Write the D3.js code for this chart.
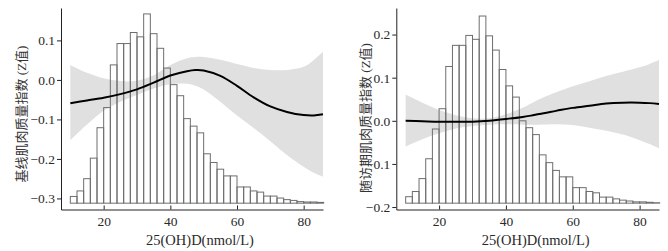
<!DOCTYPE html>
<html>
<head>
<meta charset="utf-8">
<script src="https://cdn.jsdelivr.net/npm/d3@7"></script>
<style>
  body { margin: 0; background: #fff; }
  text { font-family: "Liberation Serif", "Noto Sans CJK SC", serif; }
</style>
</head>
<body>
<div id="chart"></div>
<script>
// histogram bins of 25(OH)D (nmol/L)
const binEdges = [10,12,14,16,18,20,22,24,26,28,30,32,34,36,38,40,42,44,46,48,50,52,54,56,58,60,62,64,66,68,70,72,74,76,78,80,82,84,86];

// bar tops, drawn in each panel's own y units
const barsLeft = [-0.295,-0.281,-0.250,-0.198,-0.121,-0.070,0.038,0.092,0.092,0.120,0.109,0.167,0.117,0.080,0.030,-0.012,-0.040,-0.098,-0.117,-0.134,-0.187,-0.209,-0.226,-0.243,-0.243,-0.271,-0.271,-0.281,-0.284,-0.294,-0.294,-0.299,-0.303,-0.305,-0.308,-0.309,-0.309,-0.310];
const barsRight = [-0.176,-0.164,-0.134,-0.088,-0.019,0.028,0.126,0.175,0.175,0.198,0.189,0.243,0.197,0.164,0.119,0.081,0.055,0.000,-0.016,-0.032,-0.079,-0.097,-0.115,-0.130,-0.130,-0.155,-0.155,-0.164,-0.167,-0.177,-0.177,-0.181,-0.184,-0.186,-0.188,-0.188,-0.189,-0.190];
const baseLeft = -0.312;
const baseRight = -0.191;

// spline fit and 95% CI
const fitX = [10,15,20,25,30,35,40,45,47.5,50,55,60,65,70,75,80,83,85.8];
const fitLeft   = [-0.059,-0.052,-0.045,-0.036,-0.024,-0.007,0.011,0.022,0.025,0.024,0.010,-0.015,-0.044,-0.067,-0.081,-0.089,-0.090,-0.087];
const upperLeft = [0.038,0.018,0.004,-0.003,-0.002,0.012,0.038,0.055,0.058,0.058,0.051,0.040,0.030,0.025,0.025,0.033,0.050,0.071];
const lowerLeft = [-0.153,-0.113,-0.078,-0.055,-0.038,-0.022,-0.011,-0.010,-0.015,-0.024,-0.055,-0.090,-0.122,-0.155,-0.190,-0.220,-0.235,-0.245];
const fitRight   = [0.000,-0.001,-0.002,-0.002,-0.002,0.000,0.004,0.009,0.012,0.016,0.023,0.030,0.035,0.040,0.042,0.042,0.041,0.039];
const upperRight = [0.061,0.042,0.025,0.013,0.006,0.006,0.015,0.030,0.040,0.050,0.066,0.080,0.092,0.104,0.114,0.124,0.132,0.141];
const lowerRight = [-0.060,-0.043,-0.029,-0.018,-0.012,-0.009,-0.008,-0.009,-0.009,-0.009,-0.008,-0.010,-0.016,-0.023,-0.032,-0.045,-0.054,-0.064];

const xTicks = [20,40,60,80];
const yTicksLeft = [-0.3,-0.2,-0.1,0.0,0.1];
const yTicksRight = [-0.2,-0.1,0.0,0.1,0.2];
const xTitle = "25(OH)D(nmol/L)";
const yTitleLeft = "基线肌肉质量指数 (Z值)";
const yTitleRight = "随访期肌肉质量指数 (Z值)";

const width = 668, height = 251;

const svg = d3.select("#chart")
  .append("svg")
  .attr("width", width)
  .attr("height", height);

function drawPanel(p) {
  const x = d3.scaleLinear()
    .domain([7.2, 85.8])
    .range([p.left, p.right]);

  const y = d3.scaleLinear()
    .domain(p.yDomain)
    .range([209.5, 8]);

  const g = svg.append("g");

  const fit = fitX.map((v, i) => ({ x: v, m: p.fit[i], lo: p.lower[i], hi: p.upper[i] }));

  // CI band
  g.append("path")
    .datum(fit)
    .attr("fill", "#e0e0e0")
    .attr("d", d3.area()
      .x(d => x(d.x))
      .y0(d => y(d.lo))
      .y1(d => y(d.hi))
      .curve(d3.curveCatmullRom));

  // histogram
  g.append("g")
    .selectAll("rect")
    .data(p.bars)
    .join("rect")
    .attr("x", (d, i) => x(binEdges[i]))
    .attr("width", (d, i) => x(binEdges[i + 1]) - x(binEdges[i]))
    .attr("y", d => y(d))
    .attr("height", d => y(p.base) - y(d))
    .attr("fill", "none")
    .attr("stroke", "#6e6e6e")
    .attr("stroke-width", 1);

  // fitted line
  g.append("path")
    .datum(fit)
    .attr("fill", "none")
    .attr("stroke", "#000")
    .attr("stroke-width", 2)
    .attr("d", d3.line()
      .x(d => x(d.x))
      .y(d => y(d.m))
      .curve(d3.curveCatmullRom));

  const xAxis = g.append("g")
    .attr("transform", `translate(0,${y.range()[0]})`)
    .call(d3.axisBottom(x).tickValues(xTicks).tickSizeInner(-4).tickSizeOuter(0).tickPadding(7));

  const yAxis = g.append("g")
    .attr("transform", `translate(${p.left},0)`)
    .call(d3.axisLeft(y).tickValues(p.yTicks).tickFormat(d3.format(".1f")).tickSize(4).tickSizeOuter(0).tickPadding(2));

  [xAxis, yAxis].forEach(a => {
    a.selectAll("text")
      .style("font-family", '"Liberation Serif", serif')
      .style("font-size", "13.5px")
      .attr("fill", "#2a2a2a");
    a.select(".domain").attr("stroke", "#222");
    a.selectAll(".tick line").attr("stroke", "#222");
  });

  g.append("text")
    .attr("x", (p.left + p.right) / 2 + 8)
    .attr("y", 245)
    .attr("text-anchor", "middle")
    .attr("fill", "#2a2a2a")
    .style("font-size", "14.5px")
    .text(xTitle);

  g.append("text")
    .attr("transform", `translate(${p.titleX},${p.titleY}) rotate(-90)`)
    .attr("text-anchor", "middle")
    .attr("dominant-baseline", "central")
    .attr("fill", "#333")
    .style("font-size", "13px")
    .text(p.title);
}

drawPanel({
  left: 61, right: 323,
  yDomain: [-0.328, 0.182],
  yTicks: yTicksLeft,
  bars: barsLeft, base: baseLeft,
  fit: fitLeft, upper: upperLeft, lower: lowerLeft,
  title: yTitleLeft, titleX: 21, titleY: 114
});

drawPanel({
  left: 396.3, right: 659,
  yDomain: [-0.2057, 0.2616],
  yTicks: yTicksRight,
  bars: barsRight, base: baseRight,
  fit: fitRight, upper: upperRight, lower: lowerRight,
  title: yTitleRight, titleX: 365, titleY: 118
});
</script>
</body>
</html>
